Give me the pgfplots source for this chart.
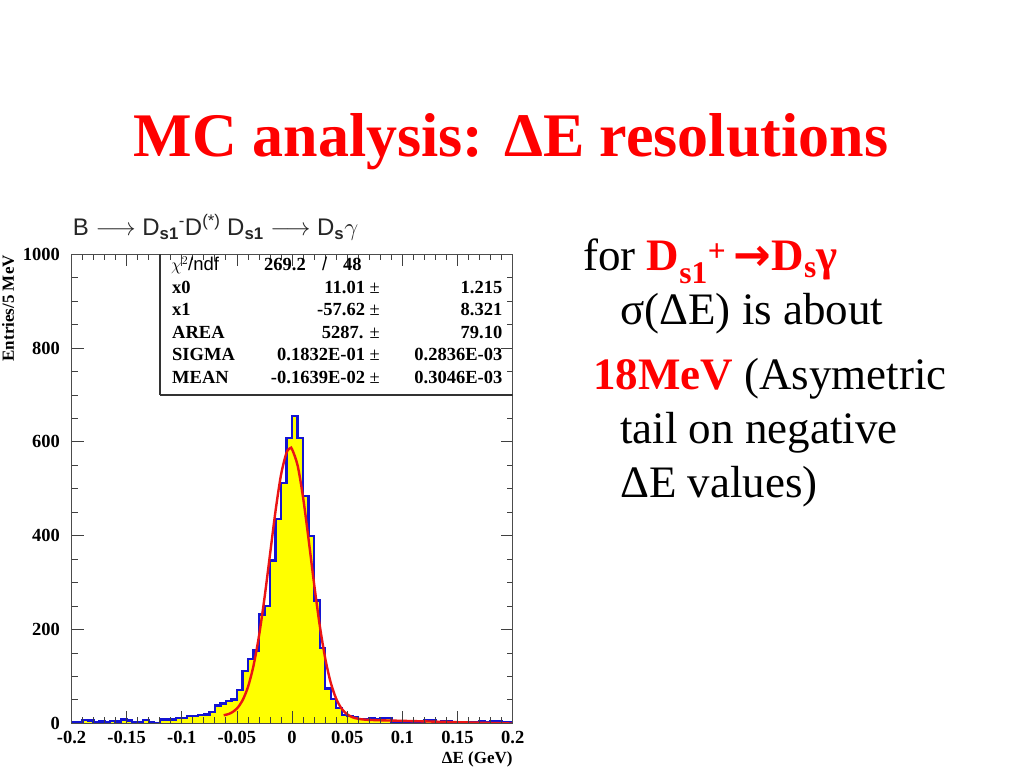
\documentclass[border=0pt]{standalone}
\usepackage{pgfplots}
\pgfplotsset{compat=1.18}
\usepackage{pgfplotstable}
\usepackage{fontspec}
\setmainfont{Liberation Serif}
\setsansfont{Liberation Sans}
\newfontfamily\arrowfont{DejaVu Sans}

\definecolor{histblue}{RGB}{20,20,210}
\definecolor{histyellow}{RGB}{255,255,0}
\definecolor{fitred}{RGB}{235,20,20}
\definecolor{slidered}{RGB}{255,0,0}

\newcommand\fs[1]{\fontsize{#1}{#1}\selectfont}

% dE histogram, 5 MeV bins (left edge, entries)
\pgfplotstableread{
x y
-0.200 2
-0.195 3
-0.190 7
-0.185 6
-0.180 2
-0.175 4
-0.170 3
-0.165 5
-0.160 4
-0.155 8
-0.150 6
-0.145 3
-0.140 3
-0.135 7
-0.130 3
-0.125 1
-0.120 8
-0.115 8
-0.110 8
-0.105 12
-0.100 12
-0.095 15
-0.090 16
-0.085 17
-0.080 19
-0.075 24
-0.070 38
-0.065 42
-0.060 47
-0.055 51
-0.050 71
-0.045 112
-0.040 137
-0.035 155
-0.030 232
-0.025 250
-0.020 347
-0.015 435
-0.010 513
-0.005 608
0.000 655
0.005 608
0.010 485
0.015 400
0.020 262
0.025 160
0.030 74
0.035 52
0.040 32
0.045 18
0.050 15
0.055 14
0.060 9
0.065 9
0.070 11
0.075 9
0.080 12
0.085 11
0.090 4
0.095 3
0.100 3
0.105 3
0.110 2
0.115 3
0.120 6
0.125 6
0.130 3
0.135 5
0.140 4
0.145 3
0.150 3
0.155 3
0.160 2
0.165 3
0.170 4
0.175 3
0.180 4
0.185 5
0.190 2
0.195 2
0.200 2
}\dEhist

% fitted curve
\pgfplotstableread{
x y
-0.062 17.1
-0.0575 19.8
-0.055 22.5
-0.050 31.5
-0.045 48.6
-0.040 77.6
-0.035 122.7
-0.030 186.5
-0.025 267.7
-0.020 360.5
-0.015 453.1
-0.010 530.3
-0.005 577.3
-0.0016 586.7
0.000 584.3
0.005 549.7
0.010 480.8
0.015 391.2
0.020 296.3
0.025 209.6
0.030 138.9
0.035 86.9
0.040 52.2
0.045 30.9
0.050 19.0
0.055 12.7
0.060 9.6
0.065 8.0
0.070 7.3
0.080 6.4
0.100 5.25
0.120 4.10
0.140 2.94
0.160 1.79
0.180 0.64
0.200 -0.51
}\dEfit

\begin{document}
\begin{tikzpicture}[x=1pt,y=1pt]
\fill[white] (0,0) rectangle (1024,768);

% slide title
\node[anchor=base, inner sep=0, text=slidered, font=\fs{62}\bfseries] at (511,611) {MC analysis: ΔE resolutions};

\begin{axis}[
    at={(71.5pt,44.7pt)}, anchor=south west,
    scale only axis, width=441.2pt, height=469pt,
    xmin=-0.2, xmax=0.2, ymin=0, ymax=1000,
    xtick={-0.2,-0.15,-0.1,-0.05,0,0.05,0.1,0.15,0.2},
    xticklabels={-0.2,-0.15,-0.1,-0.05,0,0.05,0.1,0.15,0.2},
    ytick={0,200,400,600,800,1000},
    yticklabels={0,200,400,600,800,1000},
    minor x tick num=4, minor y tick num=3,
    major tick length=12pt, minor tick length=6pt,
    tick style={black!75, line width=0.9pt},
    axis line style={black!70, line width=1.2pt},
    axis on top,
    /pgf/number format/assume math mode=true,
    ticklabel style={font=\fs{18.5}\bfseries},
    yticklabel style={xshift=-8pt},
    xticklabel style={yshift=-4.5pt},
    xlabel={ΔE (GeV)},
    xlabel style={at={(axis description cs:1,0)}, anchor=base east, yshift=-39.7pt, inner sep=0, font=\fs{17}\bfseries},
    ylabel={Entries/5 MeV},
    ylabel style={at={(axis description cs:0,0.885)}, anchor=center, yshift=63.5pt, inner sep=0, font=\fs{17}\bfseries},
]
\addplot[fill=histyellow, draw=none, const plot mark left] table[x=x,y=y] {\dEhist} \closedcycle;
\addplot[histblue, line width=2.3pt, const plot mark left] table[x=x,y=y] {\dEhist};
\addplot[fitred, line width=2.4pt, smooth] table[x=x,y=y] {\dEfit};
\end{axis}

% histogram title
\node[anchor=base west, inner sep=0, text=black!85, font=\fs{24}\sffamily] at (72.7,532)
  {B $\longrightarrow$ D\textsubscript{\bfseries s1}\textsuperscript{-}D\textsuperscript{(*)} D\textsubscript{\bfseries s1} $\longrightarrow$ D\textsubscript{\bfseries s}$\gamma$};

% fit statistics box
\draw[black!80, line width=1.2pt] (160,373) -- (160,513.7) (160,373) -- (512.7,373);
\begin{scope}[every node/.style={inner sep=0, font=\fs{18.5}\bfseries}]
\node[anchor=base west, font=\fs{18.5}\sffamily] at (171,497) {$\chi^2$/ndf};
\node[anchor=base west] at (264,497) {269.2};
\node[anchor=base west, font=\fs{18.5}\sffamily] at (322,497) {/};
\node[anchor=base west] at (343,497) {48};
\node[anchor=base west] at (172,474.5) {x0};
\node[anchor=base west] at (172,452) {x1};
\node[anchor=base west] at (172,429.5) {AREA};
\node[anchor=base west] at (172,407) {SIGMA};
\node[anchor=base west] at (172,384.5) {MEAN};
\node[anchor=base east] at (380,474.5) {11.01 {\mdseries ±}};
\node[anchor=base east] at (380,452) {-57.62 {\mdseries ±}};
\node[anchor=base east] at (380,429.5) {5287. {\mdseries ±}};
\node[anchor=base east] at (380,407) {0.1832E-01 {\mdseries ±}};
\node[anchor=base east] at (380,384.5) {-0.1639E-02 {\mdseries ±}};
\node[anchor=base east] at (502.5,474.5) {1.215};
\node[anchor=base east] at (502.5,452) {8.321};
\node[anchor=base east] at (502.5,429.5) {79.10};
\node[anchor=base east] at (502.5,407) {0.2836E-03};
\node[anchor=base east] at (502.5,384.5) {0.3046E-03};
\end{scope}

% slide text on the right
\begin{scope}[every node/.style={anchor=base west, inner sep=0, font=\fs{45}}]
\node at (583,497) {for \textcolor{slidered}{\bfseries D\textsubscript{s1}\textsuperscript{+}\,{\arrowfont\bfseries →}D\textsubscript{s}γ}};
\node at (620,443) {σ(ΔE) is about};
\node at (593,378) {\textcolor{slidered}{\bfseries 18MeV} (Asymetric};
\node at (620,324) {tail on negative};
\node at (620,270) {ΔE values)};
\end{scope}
\end{tikzpicture}
\end{document}
